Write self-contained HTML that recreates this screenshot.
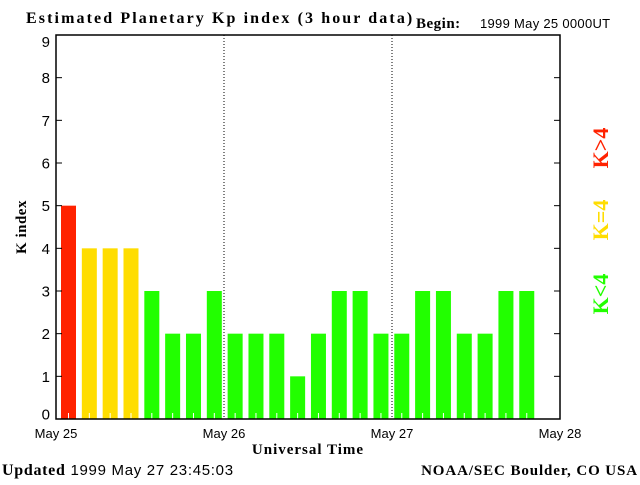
<!DOCTYPE html>
<html><head><meta charset="utf-8"><style>
body{margin:0;background:#fff;width:640px;height:480px;overflow:hidden}
</style></head><body>
<svg width="640" height="480" xmlns="http://www.w3.org/2000/svg">
<text x="26" y="23" font-family="Liberation Serif, serif" font-weight="bold" font-size="16" letter-spacing="2.1">Estimated Planetary Kp index (3 hour data)</text>
<text x="416" y="28" font-family="Liberation Serif, serif" font-weight="bold" font-size="15" letter-spacing="0.5">Begin:</text>
<text x="480" y="28" font-family="Liberation Sans, sans-serif" font-size="13" letter-spacing="0.3">1999 May 25 0000UT</text>
<g id="plot"></g>
<text x="308" y="454" text-anchor="middle" font-family="Liberation Serif, serif" font-weight="bold" font-size="15" letter-spacing="1">Universal Time</text>
<text transform="translate(26,227) rotate(-90)" text-anchor="middle" font-family="Liberation Serif, serif" font-weight="bold" font-size="15" letter-spacing="0.5">K index</text>
<text x="2" y="475" font-family="Liberation Sans, sans-serif" font-size="15" letter-spacing="0.7"><tspan font-family="Liberation Serif, serif" font-weight="bold" font-size="16">Updated</tspan> 1999 May 27 23:45:03</text>
<text x="638" y="475" text-anchor="end" font-family="Liberation Serif, serif" font-weight="bold" font-size="15" letter-spacing="0.9">NOAA/SEC Boulder, CO USA</text>
<text transform="translate(608,148) rotate(-90)" text-anchor="middle" fill="#ff2200" font-family="Liberation Serif, serif" font-weight="bold" font-size="22">K&gt;4</text>
<text transform="translate(608,220) rotate(-90)" text-anchor="middle" fill="#ffdd00" font-family="Liberation Serif, serif" font-weight="bold" font-size="22">K=4</text>
<text transform="translate(608,294) rotate(-90)" text-anchor="middle" fill="#22ff00" font-family="Liberation Serif, serif" font-weight="bold" font-size="22">K&lt;4</text>
</svg>
<script>
const kpValues = [5,4,4,4,3,2,2,3,2,2,2,1,2,3,3,2,2,3,3,2,2,3,3];
const yTicks = [0,1,2,3,4,5,6,7,8,9];
const dayLabels = ["May 25","May 26","May 27","May 28"];
const NS="http://www.w3.org/2000/svg";
const g=document.getElementById('plot');
const L=56,R=560,T=35,B=419,unit=(B-T)/9;
const slot=(R-L)/24, barSlot=20.83;
function y(v){return B-v*unit;}
function x(i){return L+i*slot;}
function bx(i){return 61+i*barSlot;}
function el(t,a){const e=document.createElementNS(NS,t);for(const k in a)e.setAttribute(k,a[k]);g.appendChild(e);return e;}
kpValues.forEach((v,i)=>{
  const c=v>4?'#ff2200':(v==4?'#ffdd00':'#22ff00');
  const r=el('rect',{x:bx(i),y:y(v),width:15,height:B-y(v),fill:c});
  
  
});
kpValues.forEach((v,i)=>{
  el('line',{x1:bx(i)+7.5,x2:bx(i)+7.5,y1:B-6,y2:B,stroke:'#fff','stroke-width':1});
});
for(let d=1;d<3;d++){
  const l=el('line',{x1:x(d*8),x2:x(d*8),y1:T,y2:B,stroke:'#000','stroke-width':1,'stroke-dasharray':'1,2'});
  
  
}
const fr=el('rect',{x:L,y:T,width:R-L,height:B-T,fill:'none',stroke:'#000','stroke-width':1.5});


yTicks.forEach(v=>{
  el('line',{x1:L,x2:L+6,y1:y(v),y2:y(v),stroke:'#000'});
  el('line',{x1:R-6,x2:R,y1:y(v),y2:y(v),stroke:'#000'});
  const by=Math.min(Math.max(y(v)+5.5,47),419.5);
  const t=el('text',{x:L-6,y:by,'text-anchor':'end','font-family':'Liberation Sans, sans-serif','font-size':'15'});
  t.textContent=v;
  
  
});
dayLabels.forEach((s,i)=>{
  const t=el('text',{x:L+i*8*slot,y:438,'text-anchor':'middle','font-family':'Liberation Sans, sans-serif','font-size':'13'});
  t.textContent=s;
  
  
});
</script>
</body></html>
